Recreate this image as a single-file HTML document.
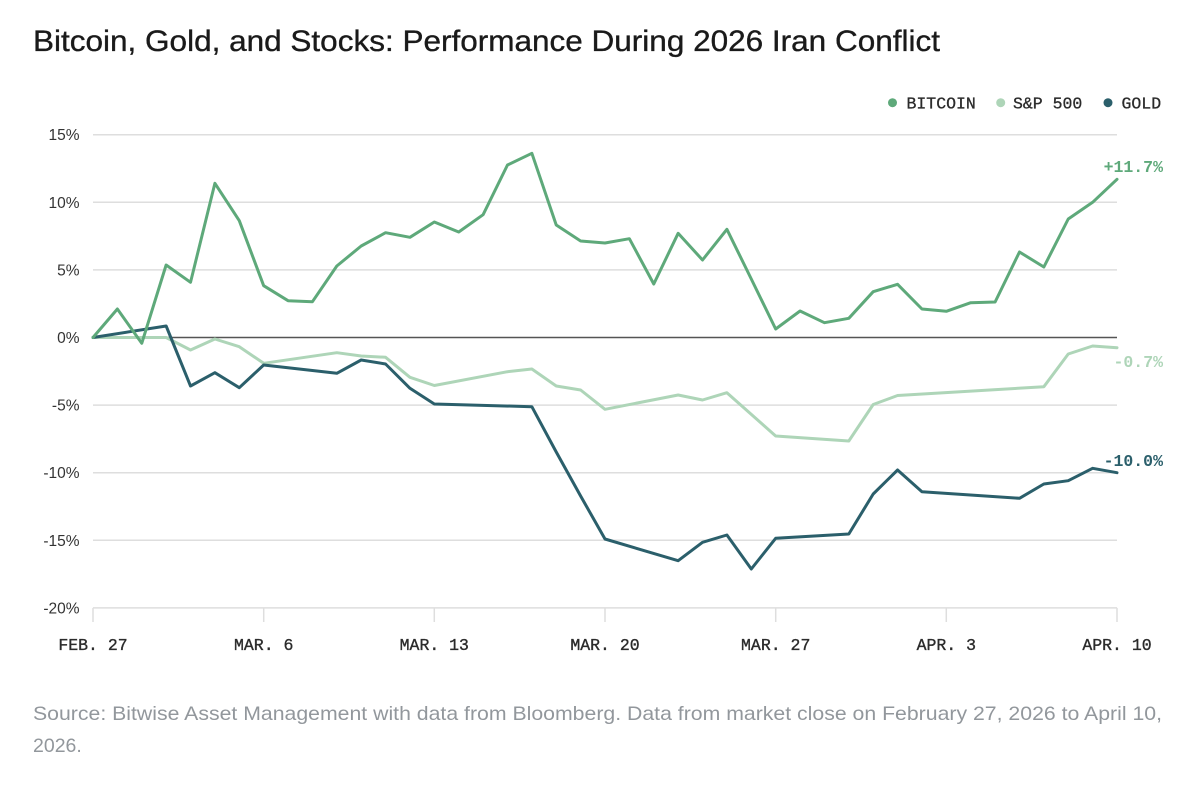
<!DOCTYPE html>
<html><head><meta charset="utf-8"><style>
html,body{margin:0;padding:0;background:#fff;}
svg{display:block;}
</style></head><body>
<svg width="1199" height="790" viewBox="0 0 1199 790" xmlns="http://www.w3.org/2000/svg">
<rect width="1199" height="790" fill="#fff"/>
<text x="33" y="51" font-family="Liberation Sans, sans-serif" font-size="30" fill="#1a1a1a" stroke="#1a1a1a" stroke-width="0.35" textLength="907" lengthAdjust="spacingAndGlyphs">Bitcoin, Gold, and Stocks: Performance During 2026 Iran Conflict</text>

<!-- legend -->
<g font-family="Liberation Mono, monospace" font-size="16.5" fill="#2b2b2b">
<circle cx="892.5" cy="102.7" r="4.5" fill="#5ea97a"/>
<text x="906.5" y="108.5" stroke="#2b2b2b" stroke-width="0.3">BITCOIN</text>
<circle cx="1000.7" cy="102.7" r="4.5" fill="#aed5b8"/>
<text x="1013" y="108.5" stroke="#2b2b2b" stroke-width="0.3">S&amp;P 500</text>
<circle cx="1108" cy="102.7" r="4.5" fill="#2b5f6b"/>
<text x="1121.5" y="108.5" stroke="#2b2b2b" stroke-width="0.3">GOLD</text>
</g>

<!-- gridlines -->
<g stroke="#dedede" stroke-width="1.5">
<line x1="93" y1="134.7" x2="1117" y2="134.7"/>
<line x1="93" y1="202.3" x2="1117" y2="202.3"/>
<line x1="93" y1="269.9" x2="1117" y2="269.9"/>
<line x1="93" y1="405.1" x2="1117" y2="405.1"/>
<line x1="93" y1="472.7" x2="1117" y2="472.7"/>
<line x1="93" y1="540.3" x2="1117" y2="540.3"/>
<line x1="93" y1="607.9" x2="1117" y2="607.9"/>
<line x1="93" y1="607.9" x2="93" y2="622"/>
<line x1="263.7" y1="607.9" x2="263.7" y2="622"/>
<line x1="434.3" y1="607.9" x2="434.3" y2="622"/>
<line x1="605" y1="607.9" x2="605" y2="622"/>
<line x1="775.7" y1="607.9" x2="775.7" y2="622"/>
<line x1="946.3" y1="607.9" x2="946.3" y2="622"/>
<line x1="1117" y1="607.9" x2="1117" y2="622"/>
</g>
<line x1="93" y1="337.5" x2="1117" y2="337.5" stroke="#555" stroke-width="1.5"/>

<!-- y labels -->
<g font-family="Liberation Sans, sans-serif" font-size="15.5" fill="#333" text-anchor="end">
<text x="79.5" y="140.2">15%</text>
<text x="79.5" y="207.8">10%</text>
<text x="79.5" y="275.4">5%</text>
<text x="79.5" y="343">0%</text>
<text x="79.5" y="410.6">-5%</text>
<text x="79.5" y="478.2">-10%</text>
<text x="79.5" y="545.8">-15%</text>
<text x="79.5" y="613.4">-20%</text>
</g>

<!-- x labels -->
<g font-family="Liberation Mono, monospace" font-size="16.5" fill="#2b2b2b" stroke="#2b2b2b" stroke-width="0.35" text-anchor="middle">
<text x="93" y="650">FEB. 27</text>
<text x="263.7" y="650">MAR. 6</text>
<text x="434.3" y="650">MAR. 13</text>
<text x="605" y="650">MAR. 20</text>
<text x="775.7" y="650">MAR. 27</text>
<text x="946.3" y="650">APR. 3</text>
<text x="1117" y="650">APR. 10</text>
</g>

<!-- S&P 500 -->
<polyline fill="none" stroke="#aed5b8" stroke-width="3" stroke-linejoin="round" stroke-linecap="round" points="93,337.5 166.14,337.5 190.52,350 214.9,339 239.29,346.7 263.67,363.3 336.81,352.7 361.19,356 385.57,357.3 409.95,377.3 434.33,385.5 507.48,371.7 531.86,369 556.24,386 580.62,390 605,409.3 678.14,395 702.52,400 726.9,392.7 775.67,436 848.81,441 873.19,404.5 897.57,395.5 1043.86,386.7 1068.24,354 1092.62,346 1117,347.7"/>

<!-- Gold -->
<polyline fill="none" stroke="#2b5f6b" stroke-width="3" stroke-linejoin="round" stroke-linecap="round" points="93,337.5 166.14,326 190.52,386 214.9,372.7 239.29,387.7 263.67,365 336.81,373.3 361.19,360 385.57,364 409.95,388.3 434.33,404 531.86,406.7 556.24,452 580.62,496 605,539 678.14,560.7 702.52,542.3 726.9,535 751.29,569 775.67,538.3 848.81,534 873.19,494 897.57,470 921.95,491.7 1019.48,498.3 1043.86,484 1068.24,480.7 1092.62,468.3 1117,472.7"/>

<!-- Bitcoin -->
<polyline fill="none" stroke="#5ea97a" stroke-width="3" stroke-linejoin="round" stroke-linecap="round" points="93,337.5 117.38,309 141.76,343.3 166.14,265 190.52,282.3 214.9,183.3 239.29,220.7 263.67,285.7 288.05,300.7 312.43,301.7 336.81,266 361.19,246 385.57,232.7 409.95,237.3 434.33,222 458.71,232 483.1,214.7 507.48,165 531.86,153.3 556.24,225 580.62,241 605,243 629.38,238.7 653.76,284 678.14,233.3 702.52,260 726.9,229.3 751.29,279 775.67,329 800.05,311 824.43,322.7 848.81,318.3 873.19,291.7 897.57,284.3 921.95,309 946.33,311.3 970.71,302.7 995.1,302 1019.48,252 1043.86,267 1068.24,219 1092.62,202.3 1117,179.3"/>

<!-- end labels -->
<g font-family="Liberation Mono, monospace" font-size="16.5" font-weight="bold" text-anchor="end">
<text x="1163" y="172" fill="#5ea97a">+11.7%</text>
<text x="1163" y="367" fill="#aed5b8">-0.7%</text>
<text x="1163" y="466" fill="#2b5f6b">-10.0%</text>
</g>

<!-- source -->
<g font-family="Liberation Sans, sans-serif" font-size="19.5" fill="#92979c">
<text x="33" y="720" textLength="1129" lengthAdjust="spacingAndGlyphs">Source: Bitwise Asset Management with data from Bloomberg. Data from market close on February 27, 2026 to April 10,</text>
<text x="33" y="752">2026.</text>
</g>
</svg>
</body></html>
